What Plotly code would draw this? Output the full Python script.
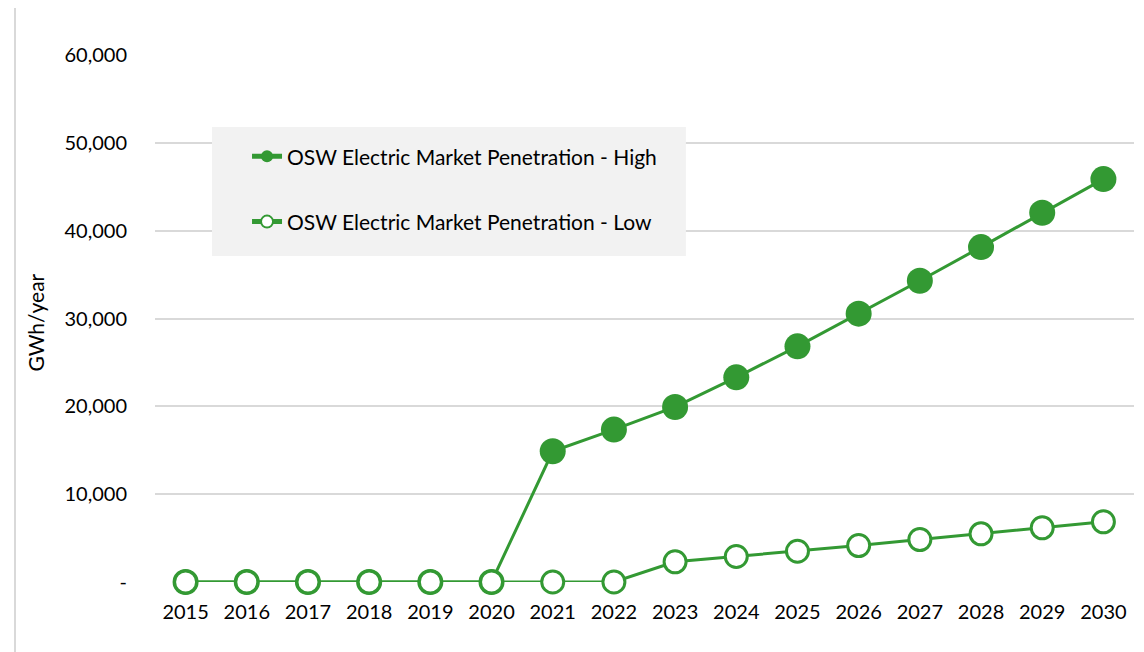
import plotly.graph_objects as go

years = list(range(2015, 2031))
high = [0, 0, 0, 0, 0, 0, 14880, 17350, 19930, 23300, 26830, 30550, 34300, 38130, 42040, 45870]
low = [0, 0, 0, 0, 0, 0, 0, 0, 2300, 2900, 3500, 4150, 4830, 5480, 6170, 6850]
y_ticks = [0, 10000, 20000, 30000, 40000, 50000, 60000]
y_ticktext = ['-', '10,000', '20,000', '30,000', '40,000', '50,000', '60,000']

green = '#339933'
font = 'Lato, Open Sans, sans-serif'

fig = go.Figure()
fig.add_trace(go.Scatter(
    x=years, y=high, mode='lines+markers', name='OSW Electric Market Penetration - High',
    line=dict(color=green, width=3),
    marker=dict(size=26, color=green, line=dict(color=green, width=0)),
    cliponaxis=False, legendgroup='h'))
fig.add_trace(go.Scatter(
    x=years, y=low, mode='lines+markers', name='OSW Electric Market Penetration - Low',
    line=dict(color=green, width=3),
    marker=dict(size=22, color='white', line=dict(color=green, width=3)),
    cliponaxis=False, legendgroup='l'))

# legend backdrop and outer frame
fig.add_shape(type='rect', xref='paper', yref='paper', x0=0.0582, x1=0.5423, y0=0.6186, y1=0.8634,
              fillcolor='#f2f2f2', line=dict(width=0), layer='above')
fig.add_shape(type='line', xref='paper', yref='paper', x0=-0.143, x1=-0.143, y0=-0.2, y1=1.097,
              line=dict(color='#d9d9d9', width=2))
fig.add_shape(type='line', xref='paper', yref='paper', x0=-0.143, x1=1.03, y0=1.097, y1=1.097,
              line=dict(color='#d9d9d9', width=2))

fig.add_annotation(text='GWh/year', xref='paper', yref='paper', x=-0.137, y=0.493,
                   showarrow=False, textangle=-90, font=dict(size=21, color='#000000', family=font))

fig.update_layout(
    width=1144, height=652,
    margin=dict(l=147, r=18, t=47, b=78),
    paper_bgcolor='white', plot_bgcolor='white',
    font=dict(family=font, size=20, color='#000000'),
    showlegend=True,
    legend=dict(x=0.094, y=0.846, xanchor='left', yanchor='top', bgcolor='rgba(0,0,0,0)',
                itemsizing='constant', tracegroupgap=35, traceorder='grouped',
                font=dict(size=21, family=font)),
)
fig.update_xaxes(range=[2014.5, 2030.5], tickvals=years, showgrid=False, zeroline=False,
                 showline=False, ticks='', ticklabelstandoff=16, tickfont=dict(size=20))
fig.update_yaxes(range=[0, 60000], tickvals=y_ticks, ticktext=y_ticktext, showgrid=True,
                 gridcolor='#d9d9d9', gridwidth=2, zeroline=False, showline=False,
                 ticks='', ticklabelstandoff=27, tickfont=dict(size=20))

fig.write_html('out.html')
